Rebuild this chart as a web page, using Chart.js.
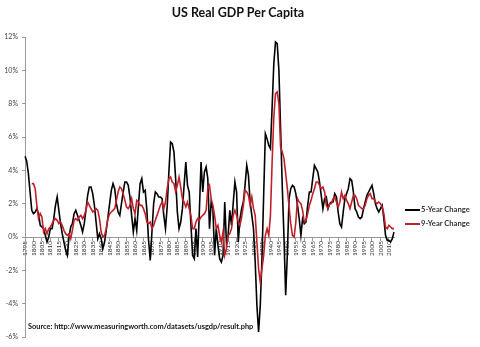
<!DOCTYPE html>
<html>
<head>
<meta charset="utf-8">
<script src="https://cdn.jsdelivr.net/npm/chart.js@4"></script>
<style>
  html, body { margin: 0; padding: 0; background: #fff; }
  #wrap { position: relative; width: 480px; height: 347px; overflow: hidden; }
  #c { position: absolute; left: 0; top: 0; }
  .title { position: absolute; left: 0; width: 476px; top: 5px; text-align: center;
           font: bold 12.5px Lato, "Open Sans", sans-serif; color: #111; }
  .src { position: absolute; left: 28px; top: 322px; font: bold 7.4px Lato, sans-serif; color: #111; }
  .leg { position: absolute; left: 405px; font: bold 7.6px Lato, sans-serif; color: #333; white-space: nowrap; }
  .leg span { display: inline-block; width: 15px; height: 2px; vertical-align: middle; margin-right: 1px; }
</style>
</head>
<body>
<div id="wrap">
  <canvas id="c" width="480" height="347"></canvas>
  <div class="title">US Real GDP Per Capita</div>
  <div class="src">Source: http://www.measuringworth.com/datasets/usgdp/result.php</div>
  <div class="leg" style="top:204px"><span style="background:#000"></span>5-Year Change</div>
  <div class="leg" style="top:218px"><span style="background:#c0202a"></span>9-Year Change</div>
</div>
<script>
const firstYear = 1795, lastYear = 2013;
const years = [];
for (let y = firstYear; y <= lastYear; y++) years.push(y);

const fiveYearChange = [
  4.85, 4.55, 3.8, 2.7, 1.6,
  1.4, 1.5, 1.7, 1.4, 0.7, 0.6, 0.5, 0.1, -0.3, 0.0,
  0.5, 0.5, 1.1, 1.9, 2.4, 1.6, 0.8, 0.2, -0.3, -0.8,
  -1.1, 0.0, 0.6, 0.8, 1.4, 1.6, 1.3, 1.0, 0.7, 0.3,
  0.8, 1.6, 2.5, 3.0, 3.0, 2.6, 1.9, 0.9, -0.1, 0.2,
  -0.1, -0.7, -0.3, 0.4, 1.2, 2.0, 2.8, 3.2, 2.9, 2.0,
  1.5, 1.3, 2.0, 2.7, 3.3, 3.3, 3.1, 2.4, 1.3, 0.3,
  1.1, 0.4, 1.9, 3.2, 3.5, 2.7, 2.8, 1.6, -0.2, -1.4,
  0.3, 2.0, 2.7, 2.6, 2.4, 2.4, 2.3, 1.3, 0.5, 1.8,
  3.9, 5.7, 5.6, 5.1, 3.5, 1.5, 0.5, 0.9, 1.7, 3.1,
  4.5, 3.1, 2.7, 0.8, -1.1, -1.3, 0.5, -1.2, 1.5, 4.5,
  2.7, 3.9, 4.2, 3.5, 0.5, 2.1, 1.7, -1.1, 0.5, -0.5,
  -1.3, -1.5, -1.1, 2.1, -0.3, 0.1, 1.6, 0.7, 2.0, 3.3,
  2.7, -0.3, 1.1, 1.7, 2.1, 3.1, 4.3, 3.7, 2.1, 1.3,
  0.5, -1.5, -4.1, -5.7, -4.1, -1.3, 2.5, 6.2, 5.9, 5.5,
  5.3, 7.8, 10.4, 11.7, 11.6, 10.0, 6.5, 3.0, 0.0, -3.5,
  -1.0, 2.3, 2.9, 3.1, 3.0, 2.6, 1.9, 1.1, 0.1, 1.1,
  0.8, 0.9, 1.9, 2.7, 2.7, 3.5, 4.3, 4.1, 3.9, 3.3,
  2.5, 1.7, 2.3, 2.4, 1.7, 2.0, 2.1, 2.1, 2.6, 2.4,
  1.5, 0.8, 0.6, 1.5, 2.3, 2.6, 2.9, 3.5, 3.4, 2.7,
  1.7, 1.5, 1.2, 1.1, 1.2, 1.7, 2.1, 2.5, 2.7, 2.9,
  3.1, 2.6, 2.0, 1.7, 1.5, 1.7, 1.9, 1.1, 0.1, -0.2,
  -0.2, -0.3, -0.1, 0.3
];

const nineYearChange = [
  null, null, null, null, 3.2,
  3.2, 2.9, 1.9, 1.1, 1.4, 1.2, 0.3, 0.5, 0.2, 0.5,
  0.6, 0.8, 1.0, 1.1, 1.0, 0.8, 0.9, 0.7, 0.4, 0.2,
  0.1, 0.2, -0.1, 0.4, 1.0, 1.1, 1.0, 1.2, 1.3, 1.1,
  1.3, 1.6, 2.1, 1.9, 1.7, 1.5, 1.6, 1.7, 1.6, 1.1,
  0.3, 0.0, 0.1, 0.5, 1.1, 1.4, 1.5, 1.6, 1.7, 2.2,
  2.7, 3.0, 2.9, 2.6, 2.2, 1.8, 1.7, 1.9, 2.3, 1.7,
  1.4, 2.2, 2.1, 1.9, 1.9, 1.7, 1.4, 0.9, 0.8, 0.9,
  0.5, 0.7, 1.0, 1.3, 1.6, 1.9, 2.1, 1.7, 2.1, 2.9,
  3.5, 3.6, 3.3, 3.2, 2.7, 3.1, 3.6, 3.0, 2.3, 2.1,
  1.8, 2.1, 1.7, 1.3, 0.5, 0.5, 0.9, 1.1, 1.0, 1.2,
  1.3, 1.4, 1.6, 2.9, 3.1, 2.3, 1.9, 1.3, 0.5, 0.7,
  0.1, -0.3, 0.3, -1.1, -0.7, 0.1, 0.2, 0.5, 1.3, 1.6,
  1.3, 0.9, 0.7, 1.2, 1.9, 2.8, 2.7, 2.5, 1.9, 2.4,
  1.7, 1.3, -0.3, -1.9, -2.7, -1.9, -1.1, 0.1, 0.5, 0.1,
  1.3, 4.5, 7.2, 8.6, 8.7, 8.0, 5.4, 5.1, 4.7, 3.8,
  2.9, 1.8, 0.8, 0.1, 0.0, 0.9, 2.3, 2.1, 2.0, 1.6,
  0.9, 1.0, 1.4, 1.9, 2.2, 2.6, 2.9, 3.3, 3.3, 3.1,
  2.9, 3.0, 2.7, 1.9, 1.7, 2.0, 2.0, 2.3, 2.4, 2.1,
  1.8, 2.1, 2.7, 2.3, 2.5, 2.2, 2.0, 1.7, 2.1, 2.5,
  2.5, 2.3, 1.9, 1.8, 1.7, 1.7, 1.9, 2.3, 2.5, 2.6,
  2.3, 2.3, 2.1, 2.0, 2.1, 2.0, 1.8, 1.4, 0.6, 0.5,
  0.7, 0.6, 0.5, 0.5
];

const yMin = -6, yMax = 12, yStep = 2;

new Chart(document.getElementById('c'), {
  type: 'line',
  data: {
    labels: years,
    datasets: [
      { label: '9-Year Change', data: nineYearChange, borderColor: '#c0202a', borderWidth: 1.6,
        pointRadius: 0, tension: 0, order: 0, spanGaps: false },
      { label: '5-Year Change', data: fiveYearChange, borderColor: '#000000', borderWidth: 1.6,
        pointRadius: 0, tension: 0, order: 1 }
    ]
  },
  options: {
    responsive: false,
    animation: false,
    devicePixelRatio: 1,
    layout: { padding: { left: 0, right: 86, top: 37, bottom: 10 } },
    plugins: { legend: { display: false }, title: { display: false }, tooltip: { enabled: false } },
    scales: {
      x: {
        type: 'category',
        position: { y: 0 },
        offset: false,
        grid: {
          drawOnChartArea: false, drawTicks: true, tickLength: 3,
          color: ctx => (ctx.tick && years[ctx.index] % 5 === 0) ? '#999' : 'rgba(0,0,0,0)'
        },
        border: { display: true, color: '#999', width: 1 },
        ticks: {
          autoSkip: false, minRotation: 90, maxRotation: 90, padding: 1,
          color: '#333', font: { family: 'Lato, sans-serif', size: 6.5 },
          callback: (v, i) => years[i] % 5 === 0 ? String(years[i]) : ''
        }
      },
      y: {
        min: yMin, max: yMax,
        grid: { drawOnChartArea: false, drawTicks: true, tickLength: 3, color: '#999' },
        border: { display: true, color: '#999', width: 1 },
        ticks: {
          stepSize: yStep, padding: 4, color: '#444',
          font: { family: 'Lato, sans-serif', size: 7 },
          callback: v => v + '%'
        },
        afterFit: s => { s.width = 25; }
      }
    }
  }
});
</script>
</body>
</html>
